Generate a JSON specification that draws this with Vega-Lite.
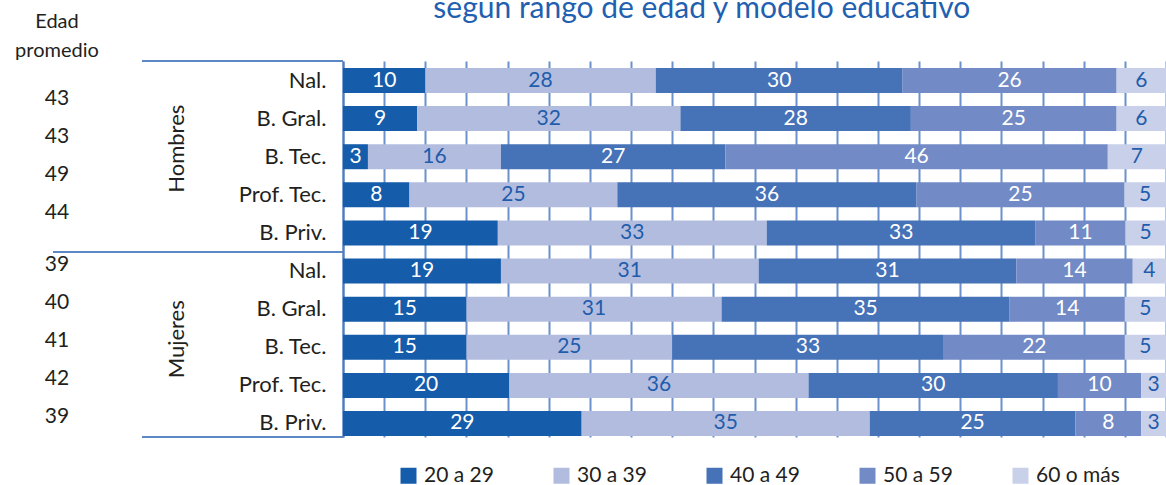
{
  "$schema": "https://vega.github.io/schema/vega-lite/v6.json",
  "width": 823,
  "height": 376,
  "autosize": {"type": "none"},
  "padding": {"left": 343, "top": 61, "right": 0, "bottom": 48},
  "background": "white",
  "config": {
    "font": "Lato",
    "view": {"stroke": null},
    "axisY": {
      "title": null,
      "labelExpr": "split(datum.value, '|')[1]",
      "labelFontSize": 22,
      "labelColor": "#231f20",
      "labelPadding": 17,
      "labelFont": "Lato",
      "ticks": false,
      "tickSize": 0,
      "domainColor": "#4d7cc0",
      "domainWidth": 2,
      "grid": false,
      "zindex": 1
    },
    "axisX": {
      "title": null,
      "labels": false,
      "ticks": false,
      "domain": false,
      "values": [0.1, 0.2, 0.3, 0.4, 0.5, 0.6, 0.7, 0.8, 0.9],
      "grid": true,
      "gridColor": "#6b90ca",
      "gridWidth": 2
    }
  },
  "datasets": {
    "barras": [
      {"fila": "Hombres|Nal.", "rango": "20 a 29", "pct": 10},
      {"fila": "Hombres|Nal.", "rango": "30 a 39", "pct": 28},
      {"fila": "Hombres|Nal.", "rango": "40 a 49", "pct": 30},
      {"fila": "Hombres|Nal.", "rango": "50 a 59", "pct": 26},
      {"fila": "Hombres|Nal.", "rango": "60 o más", "pct": 6},
      {"fila": "Hombres|B. Gral.", "rango": "20 a 29", "pct": 9},
      {"fila": "Hombres|B. Gral.", "rango": "30 a 39", "pct": 32},
      {"fila": "Hombres|B. Gral.", "rango": "40 a 49", "pct": 28},
      {"fila": "Hombres|B. Gral.", "rango": "50 a 59", "pct": 25},
      {"fila": "Hombres|B. Gral.", "rango": "60 o más", "pct": 6},
      {"fila": "Hombres|B. Tec.", "rango": "20 a 29", "pct": 3},
      {"fila": "Hombres|B. Tec.", "rango": "30 a 39", "pct": 16},
      {"fila": "Hombres|B. Tec.", "rango": "40 a 49", "pct": 27},
      {"fila": "Hombres|B. Tec.", "rango": "50 a 59", "pct": 46},
      {"fila": "Hombres|B. Tec.", "rango": "60 o más", "pct": 7},
      {"fila": "Hombres|Prof. Tec.", "rango": "20 a 29", "pct": 8},
      {"fila": "Hombres|Prof. Tec.", "rango": "30 a 39", "pct": 25},
      {"fila": "Hombres|Prof. Tec.", "rango": "40 a 49", "pct": 36},
      {"fila": "Hombres|Prof. Tec.", "rango": "50 a 59", "pct": 25},
      {"fila": "Hombres|Prof. Tec.", "rango": "60 o más", "pct": 5},
      {"fila": "Hombres|B. Priv.", "rango": "20 a 29", "pct": 19},
      {"fila": "Hombres|B. Priv.", "rango": "30 a 39", "pct": 33},
      {"fila": "Hombres|B. Priv.", "rango": "40 a 49", "pct": 33},
      {"fila": "Hombres|B. Priv.", "rango": "50 a 59", "pct": 11},
      {"fila": "Hombres|B. Priv.", "rango": "60 o más", "pct": 5},
      {"fila": "Mujeres|Nal.", "rango": "20 a 29", "pct": 19},
      {"fila": "Mujeres|Nal.", "rango": "30 a 39", "pct": 31},
      {"fila": "Mujeres|Nal.", "rango": "40 a 49", "pct": 31},
      {"fila": "Mujeres|Nal.", "rango": "50 a 59", "pct": 14},
      {"fila": "Mujeres|Nal.", "rango": "60 o más", "pct": 4},
      {"fila": "Mujeres|B. Gral.", "rango": "20 a 29", "pct": 15},
      {"fila": "Mujeres|B. Gral.", "rango": "30 a 39", "pct": 31},
      {"fila": "Mujeres|B. Gral.", "rango": "40 a 49", "pct": 35},
      {"fila": "Mujeres|B. Gral.", "rango": "50 a 59", "pct": 14},
      {"fila": "Mujeres|B. Gral.", "rango": "60 o más", "pct": 5},
      {"fila": "Mujeres|B. Tec.", "rango": "20 a 29", "pct": 15},
      {"fila": "Mujeres|B. Tec.", "rango": "30 a 39", "pct": 25},
      {"fila": "Mujeres|B. Tec.", "rango": "40 a 49", "pct": 33},
      {"fila": "Mujeres|B. Tec.", "rango": "50 a 59", "pct": 22},
      {"fila": "Mujeres|B. Tec.", "rango": "60 o más", "pct": 5},
      {"fila": "Mujeres|Prof. Tec.", "rango": "20 a 29", "pct": 20},
      {"fila": "Mujeres|Prof. Tec.", "rango": "30 a 39", "pct": 36},
      {"fila": "Mujeres|Prof. Tec.", "rango": "40 a 49", "pct": 30},
      {"fila": "Mujeres|Prof. Tec.", "rango": "50 a 59", "pct": 10},
      {"fila": "Mujeres|Prof. Tec.", "rango": "60 o más", "pct": 3},
      {"fila": "Mujeres|B. Priv.", "rango": "20 a 29", "pct": 29},
      {"fila": "Mujeres|B. Priv.", "rango": "30 a 39", "pct": 35},
      {"fila": "Mujeres|B. Priv.", "rango": "40 a 49", "pct": 25},
      {"fila": "Mujeres|B. Priv.", "rango": "50 a 59", "pct": 8},
      {"fila": "Mujeres|B. Priv.", "rango": "60 o más", "pct": 3}
    ],
    "edades": [
      {"fila": "Hombres|Nal.", "grupo": "Hombres", "edad": 43},
      {"fila": "Hombres|B. Gral.", "grupo": "Hombres", "edad": 43},
      {"fila": "Hombres|B. Tec.", "grupo": "Hombres", "edad": 49},
      {"fila": "Hombres|Prof. Tec.", "grupo": "Hombres", "edad": 44},
      {"fila": "Mujeres|Nal.", "grupo": "Mujeres", "edad": 39},
      {"fila": "Mujeres|B. Gral.", "grupo": "Mujeres", "edad": 40},
      {"fila": "Mujeres|B. Tec.", "grupo": "Mujeres", "edad": 41},
      {"fila": "Mujeres|Prof. Tec.", "grupo": "Mujeres", "edad": 42},
      {"fila": "Mujeres|B. Priv.", "grupo": "Mujeres", "edad": 39}
    ],
    "grupos": [
      {"fila": "Hombres|B. Tec.", "grupo": "Hombres"},
      {"fila": "Mujeres|B. Tec.", "grupo": "Mujeres"}
    ],
    "cabecera": [
      {"fila": "Hombres|Nal.", "texto": ["Edad", "promedio"], "titulo": "según rango de edad y modelo educativo"}
    ],
    "lineas": [
      {"fila_ini": "Hombres|Nal.", "fila_mid": "Hombres|B. Priv.", "fila_fin": "Mujeres|B. Priv."}
    ]
  },
  "encoding": {
    "y": {
      "field": "fila",
      "type": "nominal",
      "title": null,
      "scale": {
        "domain": ["Hombres|Nal.", "Hombres|B. Gral.", "Hombres|B. Tec.", "Hombres|Prof. Tec.", "Hombres|B. Priv.", "Mujeres|Nal.", "Mujeres|B. Gral.", "Mujeres|B. Tec.", "Mujeres|Prof. Tec.", "Mujeres|B. Priv."],
        "paddingInner": 0.344,
        "paddingOuter": 0.105,
        "align": 0.875
      }
    }
  },
  "layer": [
    {
      "data": {"name": "barras"},
      "mark": {"type": "bar"},
      "encoding": {
        "x": {
          "field": "pct",
          "type": "quantitative",
          "stack": "normalize",
          "title": null,
          "scale": {"domain": [0, 1], "nice": false}
        },
        "order": {"field": "rango", "type": "ordinal", "sort": "ascending"},
        "color": {
          "field": "rango",
          "type": "nominal",
          "scale": {
            "domain": ["20 a 29", "30 a 39", "40 a 49", "50 a 59", "60 o más"],
            "range": ["#155caa", "#b2bcdf", "#4672b8", "#728ac6", "#c9d0ea"]
          },
          "legend": {
            "title": null,
            "orient": "none",
            "direction": "horizontal",
            "legendX": 55,
            "legendY": 404,
            "padding": 0,
            "symbolType": "square",
            "symbolSize": 256,
            "symbolStrokeWidth": 0,
            "labelFontSize": 21,
            "labelColor": "#231f20",
            "labelOffset": 5,
            "columnPadding": 57
          }
        }
      }
    },
    {
      "data": {"name": "barras"},
      "mark": {"type": "text", "fontSize": 21, "baseline": "middle", "align": "center"},
      "encoding": {
        "x": {"field": "pct", "type": "quantitative", "stack": "normalize", "bandPosition": 0.5, "title": null, "scale": {"domain": [0, 1], "nice": false}},
        "order": {"field": "rango", "type": "ordinal", "sort": "ascending"},
        "detail": {"field": "rango"},
        "text": {"field": "pct", "type": "quantitative"},
        "color": {
          "condition": {"test": "datum.rango === '30 a 39' || datum.rango === '60 o más'", "value": "#1f5cab"},
          "value": "white"
        }
      }
    },
    {
      "data": {"name": "edades"},
      "transform": [{"filter": "datum.grupo === 'Hombres'"}],
      "mark": {"type": "text", "fontSize": 21, "baseline": "middle", "align": "center", "color": "#231f20", "dy": 18},
      "encoding": {
        "x": {"datum": -0.3475, "type": "quantitative", "title": null, "scale": {"domain": [0, 1], "nice": false}},
        "text": {"field": "edad", "type": "quantitative"}
      }
    },
    {
      "data": {"name": "edades"},
      "transform": [{"filter": "datum.grupo === 'Mujeres'"}],
      "mark": {"type": "text", "fontSize": 21, "baseline": "middle", "align": "center", "color": "#231f20", "dy": -6},
      "encoding": {
        "x": {"datum": -0.3475, "type": "quantitative", "title": null, "scale": {"domain": [0, 1], "nice": false}},
        "text": {"field": "edad", "type": "quantitative"}
      }
    },
    {
      "data": {"name": "grupos"},
      "mark": {"type": "text", "fontSize": 22, "baseline": "middle", "align": "center", "color": "#231f20", "angle": 270, "dx": 8},
      "encoding": {
        "x": {"datum": -0.2017, "type": "quantitative", "title": null, "scale": {"domain": [0, 1], "nice": false}},
        "text": {"field": "grupo"}
      }
    },
    {
      "data": {"name": "cabecera"},
      "mark": {"type": "text", "fontSize": 20, "baseline": "alphabetic", "align": "center", "color": "#231f20", "dy": -52.6, "lineHeight": 29},
      "encoding": {
        "x": {"datum": -0.3475, "type": "quantitative", "title": null, "scale": {"domain": [0, 1], "nice": false}},
        "text": {"field": "texto"}
      }
    },
    {
      "data": {"name": "cabecera"},
      "mark": {"type": "text", "fontSize": 30, "baseline": "alphabetic", "align": "center", "color": "#1f60b0", "dy": -63},
      "encoding": {
        "x": {"datum": 0.436, "type": "quantitative", "title": null, "scale": {"domain": [0, 1], "nice": false}},
        "text": {"field": "titulo"}
      }
    },
    {
      "data": {"name": "lineas"},
      "mark": {"type": "rule", "color": "#5b87c5", "strokeWidth": 2},
      "encoding": {
        "y": {"field": "fila_ini", "type": "nominal", "title": null, "bandPosition": -0.28},
        "x": {"datum": -0.2442, "type": "quantitative", "title": null, "scale": {"domain": [0, 1], "nice": false}},
        "x2": {"datum": 0}
      }
    },
    {
      "data": {"name": "lineas"},
      "mark": {"type": "rule", "color": "#5b87c5", "strokeWidth": 2},
      "encoding": {
        "y": {"field": "fila_mid", "type": "nominal", "title": null, "bandPosition": 1.264},
        "x": {"datum": -0.3524, "type": "quantitative", "title": null, "scale": {"domain": [0, 1], "nice": false}},
        "x2": {"datum": 0}
      }
    },
    {
      "data": {"name": "lineas"},
      "mark": {"type": "rule", "color": "#5b87c5", "strokeWidth": 2},
      "encoding": {
        "y": {"field": "fila_fin", "type": "nominal", "title": null, "bandPosition": 1.04},
        "x": {"datum": -0.2442, "type": "quantitative", "title": null, "scale": {"domain": [0, 1], "nice": false}},
        "x2": {"datum": 0}
      }
    }
  ]
}
